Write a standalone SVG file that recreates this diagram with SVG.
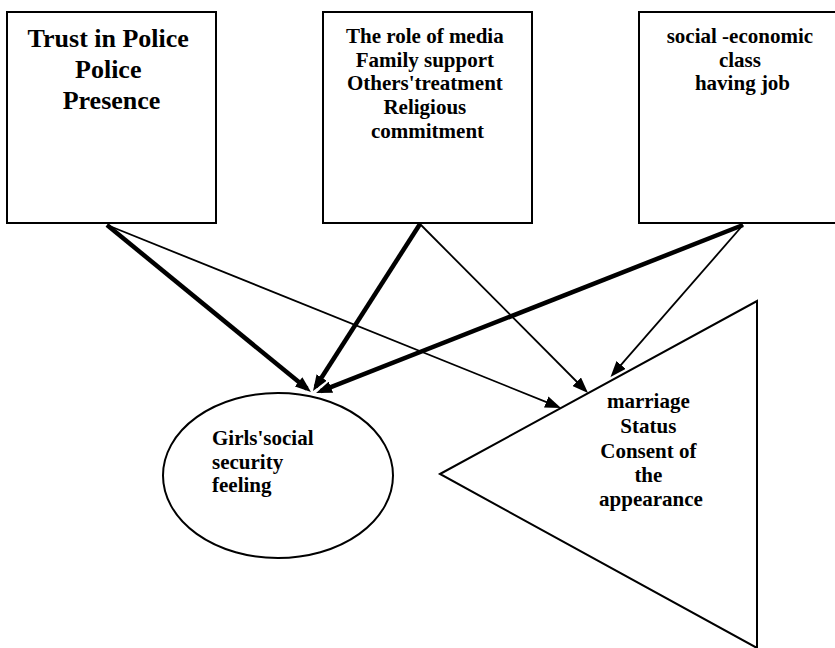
<svg xmlns="http://www.w3.org/2000/svg" width="835" height="648" viewBox="0 0 835 648">
  <style>
    .shape { fill: #ffffff; stroke: #000000; stroke-width: 2; }
    .lbl { font-family: "Liberation Serif", "Times New Roman", serif; font-weight: bold; fill: #000000; }
    .c { text-anchor: middle; }
    .thick { stroke: #000000; stroke-width: 4.5; fill: none; }
    .thin { stroke: #000000; stroke-width: 1.8; fill: none; }
  </style>
  <defs>
    <marker id="arrow" markerUnits="userSpaceOnUse" markerWidth="16" markerHeight="12" viewBox="0 0 16 12" refX="11" refY="6" orient="auto">
      <path d="M0,0 L16,6 L0,12 z" fill="#000000"/>
    </marker>
  </defs>
  <rect width="835" height="648" fill="#ffffff"/>

  <g id="node-trust">
    <rect class="shape" x="7" y="12" width="209" height="211"/>
    <text class="lbl c" font-size="26" x="111.5">
      <tspan x="111.5" y="46.5">Trust in Police</tspan>
      <tspan x="111.5" y="78">Police</tspan>
      <tspan x="111.5" y="109">Presence</tspan>
    </text>
  </g>

  <g id="node-media">
    <rect class="shape" x="323" y="12" width="209" height="211"/>
    <text class="lbl c" font-size="21" x="427.5">
      <tspan x="427.5" y="43">The role of media</tspan>
      <tspan x="427.5" y="66.7">Family support</tspan>
      <tspan x="427.5" y="90.4">Others'treatment</tspan>
      <tspan x="427.5" y="114">Religious</tspan>
      <tspan x="427.5" y="137.8">commitment</tspan>
    </text>
  </g>

  <g id="node-social">
    <rect class="shape" x="639" y="12" width="208" height="211"/>
    <text class="lbl c" font-size="21" x="742.5">
      <tspan x="742.5" y="43">social -economic</tspan>
      <tspan x="742.5" y="66.7">class</tspan>
      <tspan x="742.5" y="90">having job</tspan>
    </text>
  </g>

  <g id="node-girls">
    <ellipse class="shape" cx="278" cy="475.5" rx="115" ry="82.5"/>
    <text class="lbl" font-size="21" x="212">
      <tspan x="212" y="445">Girls'social</tspan>
      <tspan x="212" y="468.5">security</tspan>
      <tspan x="212" y="492">feeling</tspan>
    </text>
  </g>

  <g id="node-marriage">
    <polygon class="shape" points="440,474 757,301 757,648"/>
    <text class="lbl c" font-size="21" x="651">
      <tspan x="651" y="408.3">marriage</tspan>
      <tspan x="651" y="433">Status</tspan>
      <tspan x="651" y="457.7">Consent of</tspan>
      <tspan x="651" y="481.7">the</tspan>
      <tspan x="651" y="505.5">appearance</tspan>
    </text>
  </g>

  <g id="connectors">
    <line class="thick" x1="107" y1="225" x2="307.1" y2="388.8" marker-end="url(#arrow)"/>
    <line class="thin" x1="107" y1="225" x2="556.4" y2="406.1" marker-end="url(#arrow)"/>
    <line class="thick" x1="420" y1="224" x2="315.7" y2="386.8" marker-end="url(#arrow)"/>
    <line class="thin" x1="420" y1="224" x2="584.5" y2="389.5" marker-end="url(#arrow)"/>
    <line class="thick" x1="743" y1="225" x2="320.7" y2="391.2" marker-end="url(#arrow)"/>
    <line class="thin" x1="743" y1="225" x2="613.8" y2="373.2" marker-end="url(#arrow)"/>
  </g>
</svg>
